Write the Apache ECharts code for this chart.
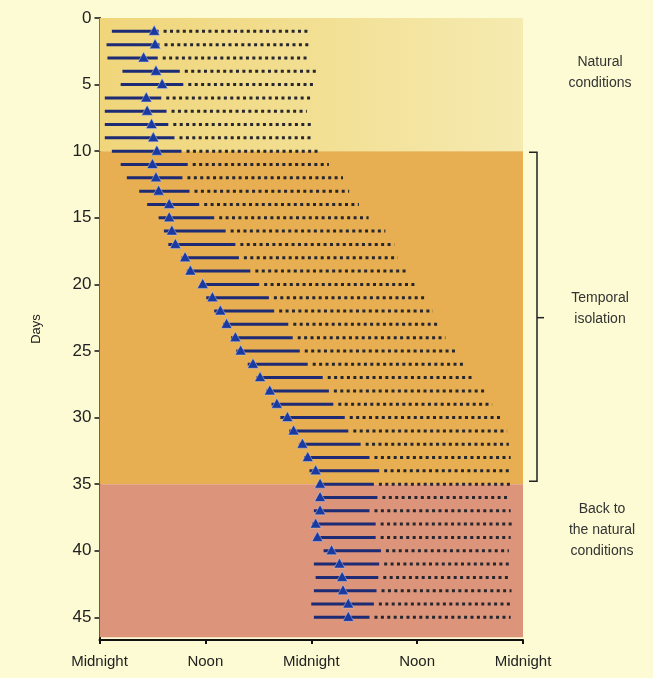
<!DOCTYPE html>
<html>
<head>
<meta charset="utf-8">
<script src="https://cdn.jsdelivr.net/npm/echarts@6/dist/echarts.min.js"></script>
<style>
html,body{margin:0;padding:0;background:#fdfbd3;}
#main{width:653px;height:678px;}
</style>
</head>
<body>
<div id="main"></div>
<script>
// Day number (rows)
const days = [1,2,3,4,5,6,7,8,9,10,11,12,13,14,15,16,17,18,19,20,21,22,23,24,25,26,27,28,29,30,31,32,33,34,35,36,37,38,39,40,41,42,43,44,45];
// Hours from the first midnight: start of solid bar
const solidStart = [1.4,0.8,0.9,2.6,2.4,0.6,0.6,0.6,0.6,1.4,2.4,3.1,4.5,5.4,6.7,7.3,7.8,9.3,9.9,11.4,12.1,13.0,14.0,14.9,15.5,16.8,17.8,18.9,19.5,20.5,21.5,22.6,23.2,23.8,24.7,24.7,24.3,24.1,24.5,25.4,24.3,24.5,24.3,24.0,24.3];
// Triangle marker position (hours)
const markerTime = [6.2,6.3,5.0,6.4,7.1,5.3,5.4,5.9,6.1,6.5,6.0,6.4,6.7,7.9,7.9,8.2,8.6,9.7,10.3,11.7,12.8,13.7,14.4,15.4,16.0,17.4,18.2,19.3,20.1,21.3,22.0,23.0,23.6,24.5,25.0,25.0,25.0,24.5,24.7,26.3,27.2,27.5,27.6,28.2,28.2];
// End of solid bar (hours)
const solidEnd = [6.7,6.8,6.6,9.1,9.5,7.0,7.6,7.8,8.5,9.3,10.0,9.4,10.2,11.3,13.0,14.3,15.4,15.8,17.1,18.1,19.2,19.8,21.4,21.9,22.7,23.6,25.3,26.0,26.5,27.8,28.2,29.6,30.6,31.7,31.1,31.5,30.6,31.3,31.3,31.9,31.7,31.6,31.4,31.1,30.6];
// End of dotted bar (hours)
const dottedEnd = [23.7,23.8,23.6,24.8,24.2,24.1,23.5,24.3,24.3,25.0,26.0,27.6,28.3,29.4,30.5,32.4,33.4,33.8,34.9,35.9,36.9,37.8,38.4,39.2,40.5,41.5,42.2,43.7,44.5,45.6,46.2,46.4,46.6,46.6,46.6,46.3,46.6,46.9,46.6,46.4,46.7,46.6,46.7,46.9,46.6];
// Axis tick labels
const xTickValues = [0,12,24,36,48];
const xTickLabels = ['Midnight','Noon','Midnight','Noon','Midnight'];
const yTickValues = [0,5,10,15,20,25,30,35,40,45];
// Phases (day ranges) and annotations
const phaseRanges = [[0,10],[10,35],[35,46.5]];
const phaseLabels = ['Natural\nconditions','Temporal\nisolation','Back to\nthe natural\nconditions'];

const seriesData = days.map((d,i)=>[d, solidStart[i], markerTime[i], solidEnd[i], dottedEnd[i]]);

const chart = echarts.init(document.getElementById('main'), null, {renderer:'canvas'});
const font = '"Liberation Sans", Arial, sans-serif';

const option = {
  backgroundColor: '#fdfbd3',
  animation: false,
  grid: {left: 99.5, right: 130, top: 18, bottom: 38},
  xAxis: {
    type: 'value', min: 0, max: 48, interval: 12, position: 'bottom',
    axisLine: {show: true, onZero: false, lineStyle: {color: '#111', width: 2}},
    axisTick: {show: true, length: 4, lineStyle: {color: '#111', width: 2}},
    splitLine: {show: false},
    axisLabel: {
      margin: 14, color: '#222', fontSize: 15, fontFamily: font,
      formatter: v => { const k = xTickValues.indexOf(v); return k >= 0 ? xTickLabels[k] : ''; }
    }
  },
  yAxis: {
    type: 'value', min: 0, max: 46.7, interval: 5, inverse: true,
    name: 'Days', nameLocation: 'middle', nameGap: 57, nameRotate: 90,
    nameTextStyle: {color: '#222', fontSize: 13, fontFamily: font},
    axisLine: {show: true, onZero: false, lineStyle: {color: '#111', width: 2}},
    axisTick: {show: true, length: 5, customValues: yTickValues, lineStyle: {color: '#111', width: 1.5}},
    splitLine: {show: false},
    axisLabel: {margin: 8, color: '#222', fontSize: 17, fontFamily: font, customValues: yTickValues}
  },
  series: [
    {
      type: 'line', data: [], silent: true,
      markArea: {
        silent: true,
        data: [
          [{yAxis: phaseRanges[0][0], xAxis: 0, itemStyle: {color: {type:'linear', x:0, y:0, x2:1, y2:0, colorStops:[{offset:0,color:'#f0d57a'},{offset:0.5,color:'#f2df92'},{offset:1,color:'#f5eab0'}]}}}, {yAxis: phaseRanges[0][1], xAxis: 48}],
          [{yAxis: phaseRanges[1][0], xAxis: 0, itemStyle: {color: '#e7af52'}}, {yAxis: phaseRanges[1][1], xAxis: 48}],
          [{yAxis: phaseRanges[2][0], xAxis: 0, itemStyle: {color: '#dc957a'}}, {yAxis: phaseRanges[2][1], xAxis: 48}]
        ]
      }
    },
    {
      type: 'custom',
      data: seriesData,
      encode: {x: [1,2,3,4], y: 0},
      renderItem: function(params, api) {
        const day = api.value(0);
        const pS = api.coord([api.value(1), day]);
        const pT = api.coord([api.value(2), day]);
        const pE = api.coord([api.value(3), day]);
        const pD = api.coord([api.value(4), day]);
        return {
          type: 'group',
          children: [
            {type: 'line', shape: {x1: pE[0] + 5, y1: pE[1], x2: pD[0], y2: pD[1]},
             style: {stroke: '#26262e', lineWidth: 3, lineDash: [3, 3.4]}},
            {type: 'line', shape: {x1: pS[0], y1: pS[1], x2: pE[0], y2: pE[1]},
             style: {stroke: '#1d2a74', lineWidth: 3}},
            {type: 'polygon', shape: {points: [[pT[0], pT[1] - 6], [pT[0] - 5.5, pT[1] + 4], [pT[0] + 5.5, pT[1] + 4]]},
             style: {fill: '#1b3aa0', stroke: 'rgba(200,210,240,0.6)', lineWidth: 0.8}}
          ]
        };
      }
    }
  ]
};
chart.setOption(option);

// Annotations on the right, positioned through the axis scale
const yTop = chart.convertToPixel({yAxisIndex: 0}, 10);
const yBot = chart.convertToPixel({yAxisIndex: 0}, 35);
const yMid = (yTop + yBot) / 2;
const bx = 537;
const textStyle = {fill: '#333', font: '14px ' + font, align: 'center', verticalAlign: 'middle', lineHeight: 21};
chart.setOption({
  graphic: [
    {type: 'polyline', shape: {points: [[bx - 8, yTop + 1], [bx, yTop + 1], [bx, yBot - 3], [bx - 8, yBot - 3]]}, style: {stroke: '#222', lineWidth: 1.5, fill: null}},
    {type: 'line', shape: {x1: bx, y1: yMid, x2: bx + 7, y2: yMid}, style: {stroke: '#222', lineWidth: 1.5}},
    {type: 'text', x: 600, y: 73, style: Object.assign({text: phaseLabels[0]}, textStyle)},
    {type: 'text', x: 600, y: 309, style: Object.assign({text: phaseLabels[1]}, textStyle)},
    {type: 'text', x: 602, y: 530, style: Object.assign({text: phaseLabels[2]}, textStyle)}
  ]
});
</script>
</body>
</html>
